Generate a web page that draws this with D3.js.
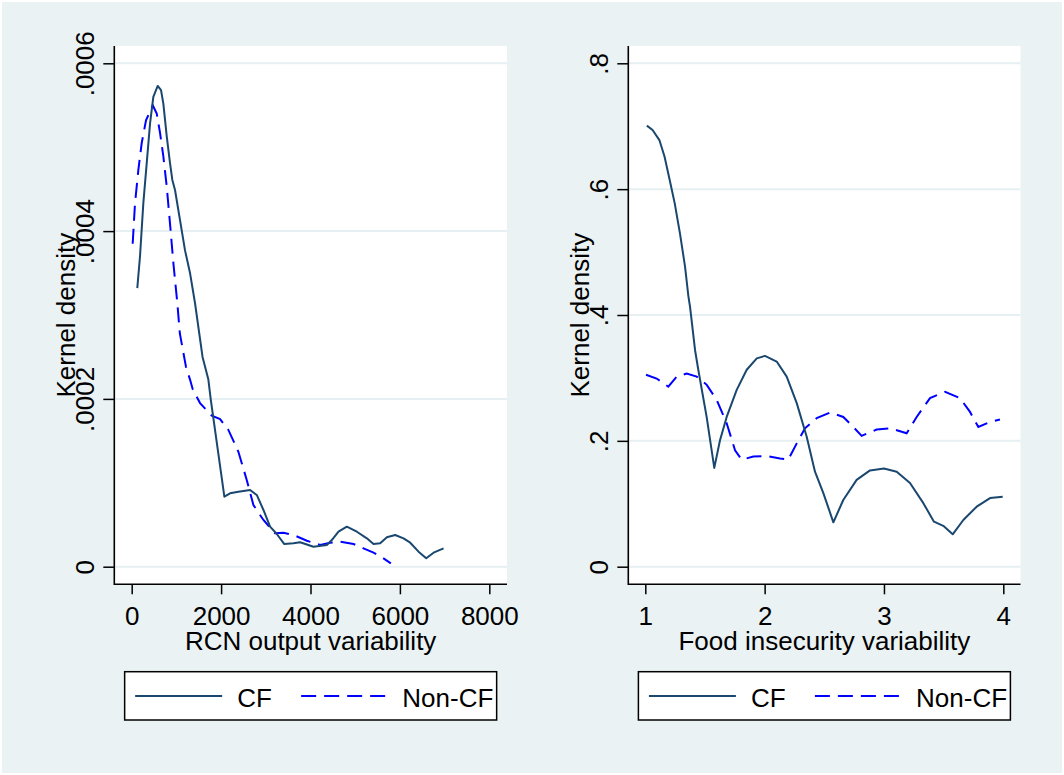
<!DOCTYPE html>
<html>
<head>
<meta charset="utf-8">
<script src="https://cdn.jsdelivr.net/npm/d3@7"></script>
<style>
  html, body { margin: 0; padding: 0; background: #ffffff; }
  svg { display: block; }
  text { font-family: "Liberation Sans", Arial, sans-serif; fill: #000; }
</style>
</head>
<body>
<svg id="chart" width="1064" height="775"></svg>
<script>
// ---- Kernel density estimates: RCN output variability ----
const rcnCfX = [125, 186, 260, 336, 410, 484, 582, 656, 708, 784, 857, 909, 969, 1081, 1193, 1305, 1417, 1585, 1715, 1769,
  2073, 2201, 2387, 2649, 2798, 2947, 3096, 3246, 3410, 3618, 3768, 4066, 4365, 4477, 4626, 4813, 5037, 5261, 5410,
  5559, 5709, 5895, 6081, 6231, 6417, 6589, 6753, 6977];
const rcnCfY = [0.000332, 0.000370, 0.000433, 0.000481, 0.000528, 0.000560, 0.000573, 0.000568, 0.000552, 0.000513,
  0.000481, 0.000461, 0.000449, 0.000413, 0.000377, 0.000350, 0.000314, 0.000250, 0.000223, 0.000199,
  0.0000834, 0.0000875, 0.0000894, 0.0000914, 0.0000855, 0.0000676, 0.0000477, 0.0000390, 0.0000271, 0.0000279,
  0.0000291, 0.0000238, 0.0000259, 0.0000318, 0.0000417, 0.0000477, 0.0000417, 0.0000338, 0.0000271,
  0.0000279, 0.0000350, 0.0000378, 0.0000338, 0.0000286, 0.0000179, 0.0000100, 0.0000167, 0.0000219];

const rcnNonCfX = [22, 74, 149, 224, 320, 470, 560, 634, 708, 784, 857, 932, 1021, 1077, 1215, 1305, 1368, 1529, 1791,
  1977, 2163, 2387, 2575, 2723, 2947, 3208, 3395, 3618, 3918, 4216, 4440, 4664, 4962, 5185, 5410, 5633, 5798];
const rcnNonCfY = [0.000385, 0.000433, 0.000473, 0.000505, 0.000532, 0.000550, 0.000540, 0.000517, 0.000489, 0.000453,
  0.000409, 0.000362, 0.000314, 0.000278, 0.000238, 0.000223, 0.000211, 0.000195, 0.000180,
  0.000176, 0.000163, 0.000137, 0.000103, 0.0000735, 0.0000557, 0.0000398, 0.0000405, 0.0000378, 0.0000310,
  0.0000259, 0.0000286, 0.0000298, 0.0000271, 0.0000219, 0.0000167, 0.0000100, 0.0000040];

// ---- Kernel density estimates: food insecurity variability ----
const foodCfX = [1.013, 1.061, 1.118, 1.161, 1.204, 1.247, 1.290, 1.333, 1.361, 1.375, 1.417, 1.444, 1.514, 1.578,
  1.626, 1.682, 1.766, 1.850, 1.934, 2.003, 2.101, 2.185, 2.269, 2.352, 2.422, 2.492, 2.576, 2.659, 2.771, 2.883,
  3.000, 3.107, 3.218, 3.330, 3.419, 3.497, 3.576, 3.665, 3.777, 3.889, 3.995];
const foodCfY = [0.701, 0.694, 0.678, 0.652, 0.615, 0.577, 0.530, 0.477, 0.430, 0.413, 0.344, 0.313, 0.238, 0.157,
  0.201, 0.238, 0.281, 0.313, 0.331, 0.335, 0.326, 0.302, 0.260, 0.207, 0.151, 0.117, 0.0705, 0.106, 0.138, 0.153,
  0.156, 0.151, 0.133, 0.101, 0.0715, 0.065, 0.0515, 0.0742, 0.0954, 0.109, 0.111];

const foodNonCfX = [1.006, 1.095, 1.193, 1.263, 1.347, 1.431, 1.515, 1.598, 1.682, 1.752, 1.808, 1.905, 2.017, 2.129,
  2.198, 2.269, 2.338, 2.436, 2.548, 2.659, 2.743, 2.813, 2.939, 3.051, 3.190, 3.274, 3.386, 3.512, 3.637,
  3.721, 3.791, 3.874, 3.972];
const foodNonCfY = [0.305, 0.299, 0.286, 0.302, 0.307, 0.302, 0.289, 0.265, 0.228, 0.185, 0.170, 0.175, 0.176, 0.172,
  0.170, 0.196, 0.220, 0.236, 0.245, 0.238, 0.222, 0.208, 0.218, 0.220, 0.212, 0.238, 0.268, 0.278, 0.268,
  0.246, 0.222, 0.229, 0.234];

// ---- Axis ticks and labels ----
const rcnXTicks = [0, 2000, 4000, 6000, 8000];
const rcnYTicks = [0, 0.0002, 0.0004, 0.0006];
const foodXTicks = [1, 2, 3, 4];
const foodYTicks = [0, 0.2, 0.4, 0.6, 0.8];
const yTitle = "Kernel density";
const rcnXTitle = "RCN output variability";
const foodXTitle = "Food insecurity variability";
const legendLabels = ["CF", "Non-CF"];

// ---- Styling ----
const BG = "#eaf2f3";
const GRID = "#e6eff1";
const CF_COLOR = "#1a476f";
const NONCF_COLOR = "#0000ff";
const DASH = "15,8";
const FONT = 26;

const svg = d3.select("#chart");

// graph region
svg.append("rect").attr("x", 2).attr("y", 2).attr("width", 1060).attr("height", 771).attr("fill", BG);

// Panel layout: plot-region bounds and pixel positions of the first/last ticks
const panels = [
  {
    plot: { left: 114.3, right: 507, top: 46, bottom: 584.3 },
    xTickPx: [131.7, 489.3], yTickPx: [566.7, 63.3],
    xTicks: rcnXTicks, yTicks: rcnYTicks, xTitle: rcnXTitle,
    cf: { x: rcnCfX, y: rcnCfY }, noncf: { x: rcnNonCfX, y: rcnNonCfY }
  },
  {
    plot: { left: 628.3, right: 1020.5, top: 46, bottom: 584.3 },
    xTickPx: [645.3, 1003.3], yTickPx: [566.7, 63.3],
    xTicks: foodXTicks, yTicks: foodYTicks, xTitle: foodXTitle,
    cf: { x: foodCfX, y: foodCfY }, noncf: { x: foodNonCfX, y: foodNonCfY }
  }
];

const fmtY = v => v === 0 ? "0" : String(v).replace(/^0/, "");

panels.forEach(p => {
  const b = p.plot;
  const x = d3.scaleLinear()
    .domain([p.xTicks[0], p.xTicks[p.xTicks.length - 1]])
    .range(p.xTickPx);
  const y = d3.scaleLinear()
    .domain([p.yTicks[0], p.yTicks[p.yTicks.length - 1]])
    .range(p.yTickPx);

  const g = svg.append("g");

  // plot region
  g.append("rect")
    .attr("x", b.left).attr("y", b.top)
    .attr("width", b.right - b.left).attr("height", b.bottom - b.top)
    .attr("fill", "#ffffff");

  // horizontal gridlines
  g.selectAll("line.grid").data(p.yTicks).join("line")
    .attr("class", "grid")
    .attr("x1", b.left + 1).attr("x2", b.right)
    .attr("y1", d => y(d)).attr("y2", d => y(d))
    .attr("stroke", GRID).attr("stroke-width", 2);

  // density curves
  const line = d3.line().x(d => x(d[0])).y(d => y(d[1])).curve(d3.curveLinear);
  g.append("path")
    .datum(d3.zip(p.noncf.x, p.noncf.y))
    .attr("d", line).attr("fill", "none")
    .attr("stroke", NONCF_COLOR).attr("stroke-width", 2)
    .attr("stroke-dasharray", DASH);
  g.append("path")
    .datum(d3.zip(p.cf.x, p.cf.y))
    .attr("d", line).attr("fill", "none")
    .attr("stroke", CF_COLOR).attr("stroke-width", 2)
    .attr("stroke-linejoin", "round");

  // y axis
  const yAxis = g.append("g")
    .attr("transform", `translate(${b.left},0)`)
    .call(d3.axisLeft(y).tickValues(p.yTicks).tickFormat(fmtY).tickSize(11).tickSizeOuter(0));
  yAxis.select(".domain").remove();
  yAxis.selectAll(".tick line").attr("stroke", "#000").attr("stroke-width", 1.5);
  yAxis.selectAll(".tick text")
    .attr("transform", "rotate(-90)")
    .attr("x", 0).attr("y", -20.3).attr("dy", 0)
    .attr("text-anchor", "middle")
    .style("font-size", FONT + "px")
    .style("font-family", '"Liberation Sans", Arial, sans-serif')
    .attr("fill", "#000");

  // x axis
  const xAxis = g.append("g")
    .attr("transform", `translate(0,${b.bottom})`)
    .call(d3.axisBottom(x).tickValues(p.xTicks).tickFormat(d3.format("d")).tickSize(10).tickSizeOuter(0));
  xAxis.select(".domain").remove();
  xAxis.selectAll(".tick line").attr("stroke", "#000").attr("stroke-width", 1.5);
  xAxis.selectAll(".tick text")
    .attr("y", 40.7).attr("dy", 0)
    .attr("text-anchor", "middle")
    .style("font-size", FONT + "px")
    .style("font-family", '"Liberation Sans", Arial, sans-serif')
    .attr("fill", "#000");

  // axis lines spanning the plot region
  g.append("line")
    .attr("x1", b.left).attr("x2", b.left).attr("y1", b.top).attr("y2", b.bottom + 0.8)
    .attr("stroke", "#000").attr("stroke-width", 1.6);
  g.append("line")
    .attr("x1", b.left).attr("x2", b.right).attr("y1", b.bottom).attr("y2", b.bottom)
    .attr("stroke", "#000").attr("stroke-width", 1.6);

  // axis titles
  const cxPlot = (b.left + b.right) / 2;
  const cyPlot = (b.top + b.bottom) / 2;
  g.append("text")
    .attr("transform", `translate(${b.left - 39.3},${cyPlot}) rotate(-90)`)
    .attr("text-anchor", "middle")
    .style("font-size", FONT + "px")
    .text(yTitle);
  g.append("text")
    .attr("x", cxPlot).attr("y", 650)
    .attr("text-anchor", "middle")
    .style("font-size", FONT + "px")
    .text(p.xTitle);

  // legend
  const lg = g.append("g").attr("transform", `translate(${cxPlot},0)`);
  lg.append("rect")
    .attr("x", -186).attr("y", 671.7).attr("width", 372).attr("height", 48.3)
    .attr("fill", "#ffffff").attr("stroke", "#000").attr("stroke-width", 1.5);
  lg.append("line")
    .attr("x1", -175.5).attr("x2", -88.5).attr("y1", 696).attr("y2", 696)
    .attr("stroke", CF_COLOR).attr("stroke-width", 2);
  lg.append("text")
    .attr("x", -73.5).attr("y", 706.5)
    .style("font-size", FONT + "px")
    .text(legendLabels[0]);
  lg.append("line")
    .attr("x1", -9.5).attr("x2", 75).attr("y1", 696).attr("y2", 696)
    .attr("stroke", NONCF_COLOR).attr("stroke-width", 2)
    .attr("stroke-dasharray", DASH);
  lg.append("text")
    .attr("x", 91.7).attr("y", 706.5)
    .style("font-size", FONT + "px")
    .text(legendLabels[1]);
});
</script>
</body>
</html>
